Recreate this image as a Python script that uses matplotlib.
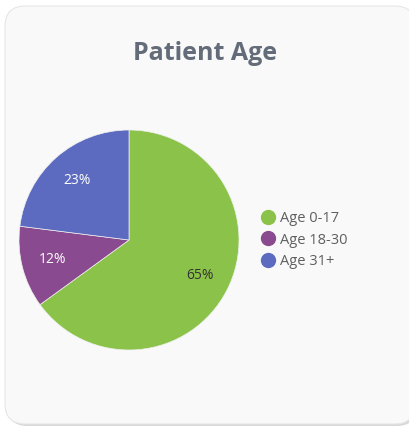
import matplotlib.pyplot as plt
from matplotlib.patches import FancyBboxPatch
from matplotlib.lines import Line2D

# Data
labels = ['Age 0-17', 'Age 18-30', 'Age 31+']
shares = [65, 12, 23]
colors = ['#8bc34a', '#8a4a8f', '#5c6bc0']
pct_colors = ['#333333', 'white', 'white']

plt.rcParams['font.family'] = ['Open Sans', 'DejaVu Sans']

W, H = 409, 429
fig = plt.figure(figsize=(W / 100, H / 100), dpi=100)
fig.patch.set_facecolor('white')

# card with a soft shadow
shadow = FancyBboxPatch((7 / W, 3 / H), 410 / W, 418 / H,
                        boxstyle='round,pad=0,rounding_size=0.05',
                        transform=fig.transFigure, facecolor='#d8d8d8',
                        edgecolor='none', mutation_aspect=W / H, zorder=-3)
card = FancyBboxPatch((5 / W, 5 / H), 410 / W, 418 / H,
                      boxstyle='round,pad=0,rounding_size=0.05',
                      transform=fig.transFigure, facecolor='#f9f9f9',
                      edgecolor='#e6e6e6', linewidth=0.8,
                      mutation_aspect=W / H, zorder=-2)
fig.patches.extend([shadow, card])

fig.text(205 / W, 1 - 53 / H, 'Patient Age', ha='center', va='center',
         fontsize=18, fontweight='bold', color='#636c78')

# pie
cx, cy, r = 129, H - 240, 110
ax = fig.add_axes([(cx - r) / W, (cy - r) / H, 2 * r / W, 2 * r / H])
wedges, texts, autotexts = ax.pie(
    shares, colors=colors, startangle=90, counterclock=False,
    autopct='%d%%', pctdistance=0.72,
    wedgeprops=dict(edgecolor='#f0f0f0', linewidth=0.5))
for t, c in zip(autotexts, pct_colors):
    t.set_color(c)
    t.set_fontsize(10)
ax.set_xlim(-1, 1)
ax.set_ylim(-1, 1)
ax.set_aspect('equal')
ax.axis('off')

# legend
handles = [Line2D([], [], marker='o', linestyle='none', markersize=10,
                  markerfacecolor=c, markeredgecolor=c) for c in colors]
fig.legend(handles, labels, loc='center left',
           bbox_to_anchor=(246 / W, 1 - 240 / H), frameon=False,
           fontsize=10.5, labelcolor='#5f5f5f', handletextpad=0.2,
           labelspacing=0.45, handlelength=1.2)

fig.savefig('out.png', dpi=100)
